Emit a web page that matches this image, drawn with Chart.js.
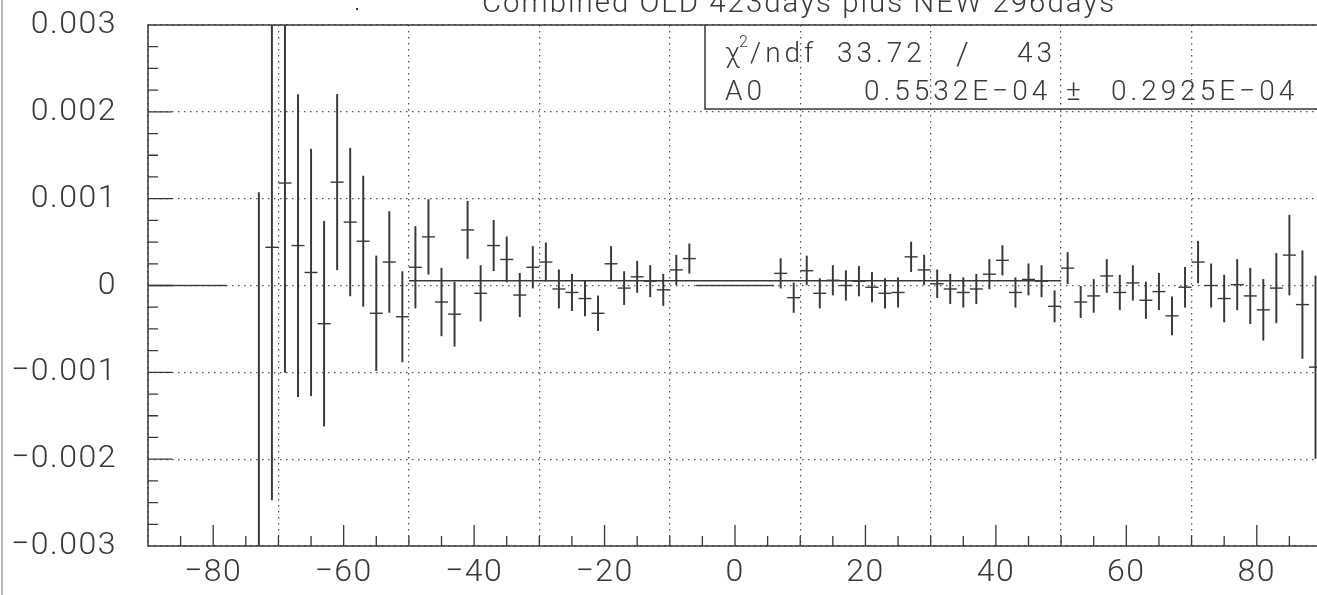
<!DOCTYPE html>
<html>
<head>
<meta charset="utf-8">
<script src="https://cdn.jsdelivr.net/npm/chart.js@4.4.1/dist/chart.umd.min.js"></script>
<style>
  html, body { margin: 0; padding: 0; background: #fff; overflow: hidden; }
  #wrap { width: 1330px; height: 595px; }
</style>
</head>
<body>
<div id="wrap"><canvas id="plot" width="1330" height="595"></canvas></div>
<script>
// bin centres (bin width 2), contents and errors
const binCenters = [
  -89, -87, -85, -83, -81, -79,
  -73, -71, -69, -67, -65, -63, -61, -59, -57, -55, -53, -51, -49, -47, -45, -43, -41,
  -39, -37, -35, -33, -31, -29, -27, -25, -23, -21, -19, -17, -15, -13, -11, -9, -7,
  -5, -3, -1, 1, 3, 5,
  7, 9, 11, 13, 15, 17, 19, 21, 23, 25, 27, 29, 31, 33, 35, 37, 39, 41, 43, 45, 47, 49,
  51, 53, 55, 57, 59, 61, 63, 65, 67, 69, 71, 73, 75, 77, 79, 81, 83, 85, 87, 89
];
const binValues = [
  0, 0, 0, 0, 0, 0,
  -0.0034, 0.00044, 0.00118, 0.00046, 0.00015, -0.00044, 0.00119, 0.00073, 0.00051, -0.00032, 0.00027, -0.00036, 0.00021, 0.00056, -0.00019, -0.00033, 0.00064,
  -0.00009, 0.00046, 0.00030, -0.00011, 0.00021, 0.00027, -0.00004, -0.00008, -0.00015, -0.00032, 0.00025, -0.00003, 0.00010, 0.00005, -0.00005, 0.00018, 0.00031,
  0, 0, 0, 0, 0, 0,
  0.00014, -0.00014, 0.00017, -0.00009, 0.00006, 0.00000, 0.00005, -0.00002, -0.00009, -0.00008, 0.00033, 0.00018, 0.00002, -0.00004, -0.00008, -0.00004, 0.00013, 0.00029, -0.00008, 0.00007, 0.00005, -0.00024,
  0.00020, -0.00019, -0.00012, 0.00011, -0.00008, 0.00003, -0.00017, -0.00007, -0.00035, -0.00002, 0.00027, 0.00000, -0.00015, 0.00001, -0.00012, -0.00028, -0.00003, 0.00035, -0.00022, -0.00094
];
const binErrors = [
  0, 0, 0, 0, 0, 0,
  0.00447, 0.00291, 0.00218, 0.00174, 0.00142, 0.00118, 0.00101, 0.00085, 0.00075, 0.00066, 0.00058, 0.00052, 0.00047, 0.00043, 0.00039, 0.00037, 0.00033,
  0.00032, 0.00029, 0.00026, 0.00025, 0.00024, 0.00022, 0.00022, 0.00021, 0.00020, 0.00020, 0.00020, 0.00019, 0.00018, 0.00018, 0.00018, 0.00017, 0.00017,
  0, 0, 0, 0, 0, 0,
  0.00017, 0.00017, 0.00017, 0.00017, 0.00017, 0.00017, 0.00017, 0.00017, 0.00017, 0.00017, 0.00017, 0.00017, 0.00016, 0.00017, 0.00017, 0.00017, 0.00017, 0.00017, 0.00017, 0.00018, 0.00018, 0.00018,
  0.00018, 0.00018, 0.00019, 0.00019, 0.00020, 0.00020, 0.00021, 0.00021, 0.00022, 0.00023, 0.00024, 0.00025, 0.00027, 0.00029, 0.00032, 0.00035, 0.00040, 0.00046, 0.00062, 0.00105
];

const xTicks = [-80, -60, -40, -20, 0, 20, 40, 60, 80];
const xTickLabels = ['\u221280', '\u221260', '\u221240', '\u221220', '0', '20', '40', '60', '80'];
const yTicks = [-0.003, -0.002, -0.001, 0, 0.001, 0.002, 0.003];
const yTickLabels = ['\u22120.003', '\u22120.002', '\u22120.001', '0', '0.001', '0.002', '0.003'];

// fit result
const fitRange = [-50, 50];
const fitA0 = 0.5532e-4;
const titleText = 'Combined OLD 423days plus NEW 296days';
const statChi2 = '33.72';
const statNdf = '43';
const statA0 = '0.5532E\u221204';
const statA0Err = '0.2925E\u221204';

const ink = '#383838';
const face = 'Roboto, "DejaVu Sans", sans-serif';

// wider letter spacing for the plotter-style lettering
const spacing = {
  id: 'spacing',
  beforeDraw(chart) { chart.ctx.letterSpacing = '1.5px'; }
};

// frame, inward ticks, title and stats box
const decorations = {
  id: 'decorations',
  afterDraw(chart) {
    const {ctx, chartArea: a, scales: {x, y}} = chart;
    ctx.save();

    // page edge
    ctx.strokeStyle = '#888';
    ctx.lineWidth = 1.2;
    ctx.beginPath();
    ctx.moveTo(2, 0); ctx.lineTo(2, 595);
    ctx.stroke();

    // frame
    ctx.strokeStyle = ink;
    ctx.lineWidth = 1.5;
    ctx.strokeRect(a.left, a.top, a.right - a.left, a.bottom - a.top);

    // ticks pointing into the frame
    ctx.lineWidth = 1.3;
    ctx.beginPath();
    for (let v = -85; v <= 85; v += 5) {
      const px = x.getPixelForValue(v);
      const len = v % 20 === 0 ? 21 : 10;
      ctx.moveTo(px, a.bottom); ctx.lineTo(px, a.bottom - len);
    }
    for (let k = -11; k <= 11; k++) {
      const py = y.getPixelForValue(k * 0.00025);
      const len = k % 4 === 0 ? 24 : 10;
      ctx.moveTo(a.left, py); ctx.lineTo(a.left + len, py);
    }
    ctx.stroke();

    // title, cut at the top of the page
    ctx.letterSpacing = '2px';
    let size = 30;
    ctx.font = `300 ${size}px ${face}`;
    size = size * 633 / ctx.measureText(titleText).width;
    ctx.font = `300 ${size}px ${face}`;
    ctx.fillStyle = ink;
    ctx.textAlign = 'left';
    ctx.textBaseline = 'alphabetic';
    ctx.fillText(titleText, 482, 12);
    ctx.fillRect(356, 8, 2, 2);

    // stats box
    const bx = 705, by = a.top, bb = 109;
    ctx.lineWidth = 1.5;
    ctx.beginPath();
    ctx.moveTo(bx, by); ctx.lineTo(bx, bb); ctx.lineTo(a.right, bb);
    ctx.stroke();
    ctx.letterSpacing = '4px';
    ctx.font = `300 28px ${face}`;
    ctx.fillText('\u03c7', 725, 62);
    ctx.font = `300 16px ${face}`;
    ctx.fillText('2', 739, 47);
    ctx.font = `300 28px ${face}`;
    ctx.fillText('/ndf', 750, 62);
    ctx.fillText(statChi2, 837, 62);
    ctx.font = `300 32px ${face}`;
    ctx.fillText('/', 956, 64);
    ctx.font = `300 28px ${face}`;
    ctx.fillText(statNdf, 1017, 62);
    ctx.fillText('A0', 725, 100);
    ctx.fillText(statA0, 864, 100);
    ctx.fillText('\u00b1', 1066, 100);
    ctx.fillText(statA0Err, 1111, 100);

    ctx.restore();
  }
};

new Chart(document.getElementById('plot').getContext('2d'), {
  type: 'scatter',
  data: {
    datasets: [
      {
        type: 'line',
        label: 'fit',
        data: fitRange.map(v => ({x: v, y: fitA0})),
        borderColor: ink,
        borderWidth: 1.4,
        pointRadius: 0
      },
      {
        type: 'scatter',
        label: 'content',
        data: binCenters.map((c, i) => ({x: c, y: binValues[i]})),
        pointStyle: 'line',
        pointRadius: 6.5,
        pointBorderWidth: 1.4,
        pointBorderColor: ink,
        pointBackgroundColor: ink,
        borderColor: ink,
        showLine: false
      },
      {
        type: 'bar',
        label: 'error',
        data: binCenters.map((c, i) => ({x: c, y: [binValues[i] - binErrors[i], binValues[i] + binErrors[i]]})),
        backgroundColor: ink,
        borderWidth: 0,
        barThickness: 1.3,
        grouped: false
      }
    ]
  },
  options: {
    responsive: false,
    devicePixelRatio: 1,
    animation: false,
    layout: { padding: { left: 0, top: 25, right: 8, bottom: 0 } },
    plugins: {
      legend: { display: false },
      tooltip: { enabled: false }
    },
    scales: {
      x: {
        type: 'linear',
        min: -90,
        max: 90,
        offset: false,
        afterBuildTicks: s => { s.ticks = xTicks.map(v => ({value: v})); },
        afterFit: s => { s.height = 49; s.paddingLeft = 0; s.paddingRight = 0; },
        ticks: {
          callback: (v, i) => xTickLabels[i],
          font: { family: face, size: 32, weight: '300' },
          color: ink,
          padding: 8,
          maxRotation: 0,
          autoSkip: false
        },
        grid: { color: '#555', lineWidth: 1.3, drawTicks: false },
        border: { display: false, dash: [1.5, 4.5] }
      },
      y: {
        type: 'linear',
        min: -0.003,
        max: 0.003,
        afterBuildTicks: s => { s.ticks = yTicks.map(v => ({value: v})); },
        afterFit: s => { s.width = 148; s.paddingTop = 0; s.paddingBottom = 0; },
        ticks: {
          callback: (v, i) => yTickLabels[i],
          font: { family: face, size: 32, weight: '300' },
          color: ink,
          padding: 31,
          autoSkip: false
        },
        grid: { color: '#555', lineWidth: 1.3, drawTicks: false },
        border: { display: false, dash: [1.5, 4.5] }
      }
    }
  },
  plugins: [spacing, decorations]
});
</script>
</body>
</html>
